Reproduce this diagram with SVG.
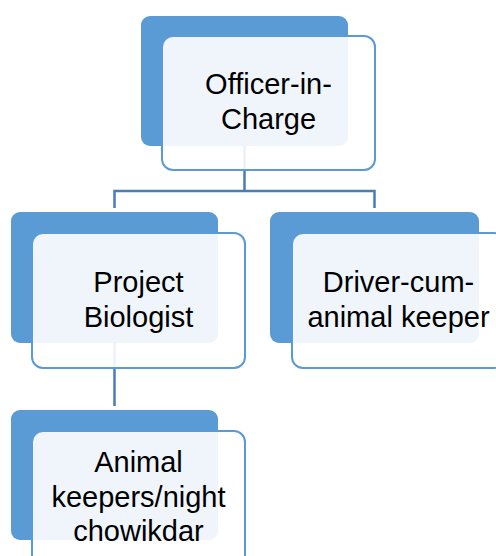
<svg xmlns="http://www.w3.org/2000/svg" width="496" height="556" viewBox="0 0 496 556">
  <style>
    .back { fill: #5B9BD5; }
    .front { fill: #FFFFFF; fill-opacity: 0.9; stroke: #5B9BD5; stroke-width: 2; }
    .conn { fill: none; stroke: #4A7EB0; stroke-width: 2.5; }
    .lbl { font-family: "Liberation Sans", Arial, sans-serif; font-size: 29px; fill: #000000; text-anchor: middle; }
  </style>
  <rect width="496" height="556" fill="#FFFFFF"/>
  <g id="backs">
    <rect class="back" x="141" y="16" width="207" height="130" rx="9"/>
    <rect class="back" x="11" y="212" width="207" height="131" rx="9"/>
    <rect class="back" x="270" y="212" width="209" height="131" rx="9"/>
    <rect class="back" x="11" y="410" width="207" height="130" rx="9"/>
  </g>
  <g id="connectors">
    <path class="conn" d="M244.5,146 V191 M114.5,191 H374.5 M114.5,189.75 V208 M374.5,189.75 V208"/>
    <path class="conn" d="M114.5,343 V406"/>
  </g>
  <g id="officer">
    <rect class="front" x="162" y="36" width="213" height="134" rx="11"/>
    <text class="lbl" x="268.5" y="94">Officer-in-</text>
    <text class="lbl" x="268.5" y="129">Charge</text>
  </g>
  <g id="biologist">
    <rect class="front" x="32" y="233" width="213" height="135" rx="11"/>
    <text class="lbl" x="138.5" y="292">Project</text>
    <text class="lbl" x="138.5" y="327">Biologist</text>
  </g>
  <g id="driver">
    <rect class="front" x="292" y="233" width="213" height="135" rx="11"/>
    <text class="lbl" x="398.5" y="292">Driver-cum-</text>
    <text class="lbl" x="398.5" y="327">animal keeper</text>
  </g>
  <g id="keepers">
    <rect class="front" x="32" y="431" width="213" height="135" rx="11"/>
    <text class="lbl" x="138.5" y="472">Animal</text>
    <text class="lbl" x="138.5" y="506.5">keepers/night</text>
    <text class="lbl" x="138.5" y="541">chowikdar</text>
  </g>
</svg>
